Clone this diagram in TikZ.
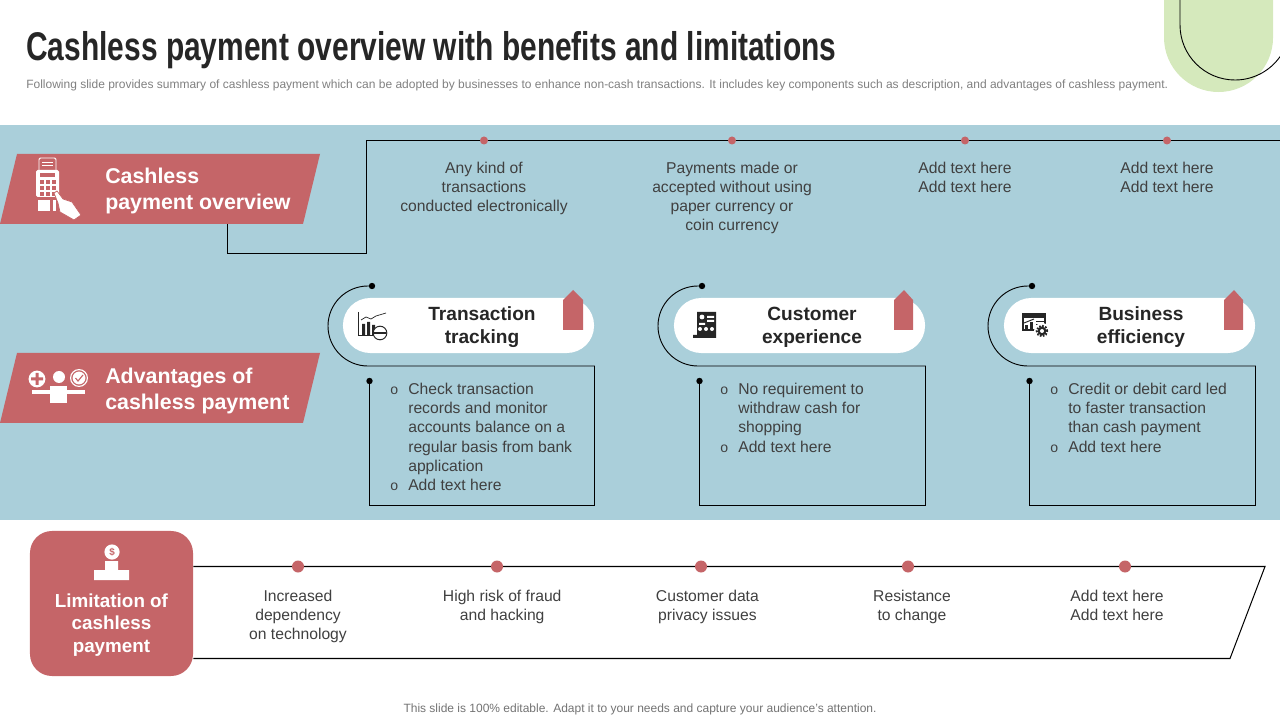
\documentclass[tikz,border=0pt]{standalone}
\usepackage{fontspec}
\setmainfont{Liberation Sans}
\newfontfamily\headfont[FakeStretch=0.747]{Liberation Sans}
\usetikzlibrary{positioning}

\definecolor{bandblue}{HTML}{AACFDA}
\definecolor{rosered}{HTML}{C56568}
\definecolor{palegreen}{HTML}{D5E9BC}
\definecolor{inkgrey}{HTML}{404040}

\newcommand{\bul}{\llap{\fontsize{10}{10}\selectfont o\hspace{0.72em}}}

\begin{document}
\begin{tikzpicture}[
    x=0.025cm, y=-0.025cm,
    rule/.style={draw=black, line width=0.72pt},
    thin rule/.style={draw=black, line width=0.65pt},
    topdot/.style={circle, fill=rosered, inner sep=0pt, minimum size=0.2cm},
    limdot/.style={circle, fill=rosered, inner sep=0pt, minimum size=0.3cm},
    blackdot/.style={circle, fill=black, inner sep=0pt, minimum size=0.16cm},
    desc/.style={inner sep=0pt, align=center, text=inkgrey, font=\fontsize{11.15}{13.6}\selectfont},
    bullets/.style={inner sep=0pt, anchor=north west, align=left, text=inkgrey, font=\fontsize{11.15}{13.6}\selectfont},
    banner text/.style={inner sep=0pt, anchor=west, align=left, text=white, font=\fontsize{15.2}{18}\selectfont\bfseries},
    pill/.style={fill=white, rounded corners=0.68cm, minimum width=6.275cm, minimum height=1.375cm, inner sep=0pt},
    pill title/.style={inner sep=0pt, align=center, text=black!85, font=\fontsize{13.6}{16.4}\selectfont\bfseries},
    small grey/.style={inner sep=0pt, text=black!55, font=\fontsize{8.53}{10}\selectfont},
    limit box/.style={fill=rosered, rounded corners=0.55cm, minimum width=4.075cm, minimum height=3.625cm, inner sep=0pt},
    tag/.style={fill=rosered},
    icon/.style={fill=black!85, draw=none},
    icon line/.style={draw=black!85, line width=0.7pt}
]
\useasboundingbox (0,0) rectangle (1280,720);

% Backdrop
\fill[palegreen] (1164,0) -- (1164,37.5) arc[start angle=180, end angle=360, radius=1.3625cm] -- (1273,0) -- cycle;
\draw[thin rule] (1180,0) -- (1180,25) arc[start angle=180, end angle=325, radius=1.375cm];
\fill[bandblue] (0,125) rectangle (1280,520);

% Title
\node[inner sep=0pt, anchor=west, text=black!85, font=\fontsize{28.5}{30}\selectfont\headfont\bfseries] (title) at (26,50) {Cashless payment overview with benefits and limitations};
\node[small grey, anchor=west, text=black!50] (subtitle) at (26,85) {Following slide provides summary of cashless payment which can be adopted by businesses to enhance non-cash transactions. It includes key components such as description, and advantages of cashless payment.};

% Banners
\fill[rosered] (17,154) -- (320,154) -- (303,224) -- (0,224) -- cycle;
\fill[rosered] (17,353) -- (320,353) -- (303,423) -- (0,423) -- cycle;
\node[banner text] (overview) at (105,191) {Cashless\\payment overview};
\node[banner text] (advantages) at (105,391) {Advantages of\\cashless payment};

% Overview line
\coordinate (overviewStart) at (227.5,224);
\coordinate (dotA) at (484,140.5);
\coordinate (dotB) at (732,140.5);
\coordinate (dotC) at (965,140.5);
\coordinate (dotD) at (1167,140.5);
\draw[rule] (overviewStart) -- (227.5,253.5) -- (366.5,253.5) -- (366.5,140.5) -- (dotA) -- (dotB) -- (dotC) -- (dotD) -- (1280,140.5);
\node[topdot] (overviewA) at (dotA) {};
\node[topdot] (overviewB) at (dotB) {};
\node[topdot] (overviewC) at (dotC) {};
\node[topdot] (overviewD) at (dotD) {};
\node[desc, anchor=north, below=0.42cm of overviewA] (descA) {Any kind of\\transactions\\conducted electronically};
\node[desc, anchor=north, below=0.42cm of overviewB] (descB) {Payments made or\\accepted without using\\paper currency or\\coin currency};
\node[desc, anchor=north, below=0.42cm of overviewC] (descC) {Add text here\\Add text here};
\node[desc, anchor=north, below=0.42cm of overviewD] (descD) {Add text here\\Add text here};

% Advantage cards
\node[pill] (pillA) at (468.5,325.5) {};
\node[pill] (pillB) at (799.5,325.5) {};
\node[pill] (pillC) at (1129.5,325.5) {};
\node[pill title] (titleA) at (482,327) {Transaction\\tracking};
\node[pill title] (titleB) at (812,327) {Customer\\experience};
\node[pill title] (titleC) at (1141,327) {Business\\efficiency};

\fill[tag] (563,330) -- (563,300) -- (573,290) -- (583,300) -- (583,330) -- cycle;
\fill[tag] (894,330) -- (894,300) -- (904,290) -- (913,300) -- (913,330) -- cycle;
\fill[tag] (1224,330) -- (1224,300) -- (1234,290) -- (1243,300) -- (1243,330) -- cycle;

\node[blackdot] (arcA) at (372,286) {};
\node[blackdot] (arcB) at (702,286) {};
\node[blackdot] (arcC) at (1032,286) {};
\node[blackdot] (boxA) at (369.5,381) {};
\node[blackdot] (boxB) at (699.5,381) {};
\node[blackdot] (boxC) at (1029.5,381) {};
\draw[thin rule] (arcA.center) -- (368,286) arc[start angle=90, end angle=270, radius=1cm] -- (594.5,366) -- (594.5,505.5) -- (369.5,505.5) -- (boxA.center);
\draw[thin rule] (arcB.center) -- (698,286) arc[start angle=90, end angle=270, radius=1cm] -- (925.5,366) -- (925.5,505.5) -- (699.5,505.5) -- (boxB.center);
\draw[thin rule] (arcC.center) -- (1028,286) arc[start angle=90, end angle=270, radius=1cm] -- (1255.5,366) -- (1255.5,505.5) -- (1029.5,505.5) -- (boxC.center);

\node[bullets] (listA) at (408,383) {\bul Check transaction\\records and monitor\\accounts balance on a\\regular basis from bank\\application\\\bul Add text here};
\node[bullets] (listB) at (738,383) {\bul No requirement to\\withdraw cash for\\shopping\\\bul Add text here};
\node[bullets] (listC) at (1068,383) {\bul Credit or debit card led\\to faster transaction\\than cash payment\\\bul Add text here};

% Limitation strip
\node[limit box] (limit) at (111.5,603.5) {};
\node[inner sep=0pt, align=center, text=white, font=\fontsize{13.4}{16}\selectfont\bfseries] (limitText) at (111.5,625) {Limitation of\\cashless\\payment};
\coordinate (limA) at (298,566.5);
\coordinate (limB) at (497,566.5);
\coordinate (limC) at (701,566.5);
\coordinate (limD) at (908,566.5);
\coordinate (limE) at (1125,566.5);
\draw[rule] (limit.east |- limA) -- (limA) -- (limB) -- (limC) -- (limD) -- (limE) -- (1265,566.5) -- (1230,658.5) -- (limit.east |- 0,658.5);
\node[limdot] (dropA) at (limA) {};
\node[limdot] (dropB) at (limB) {};
\node[limdot] (dropC) at (limC) {};
\node[limdot] (dropD) at (limD) {};
\node[limdot] (dropE) at (limE) {};
\node[desc, anchor=north, below=0.42cm of dropA] (limitA) {Increased\\dependency\\on technology};
\node[desc, anchor=north, below=0.42cm of dropB, xshift=0.13cm] (limitB) {High risk of fraud\\and hacking};
\node[desc, anchor=north, below=0.42cm of dropC, xshift=0.16cm] (limitC) {Customer data\\privacy issues};
\node[desc, anchor=north, below=0.42cm of dropD, xshift=0.1cm] (limitD) {Resistance\\to change};
\node[desc, anchor=north, below=0.42cm of dropE, xshift=-0.2cm] (limitE) {Add text here\\Add text here};

% Footer
\node[small grey] (footer) at (640,709) {This slide is 100\% editable. Adapt it to your needs and capture your audience's attention.};

% Banner icons
\draw[white, line width=0.7pt, rounded corners=1pt] (39,170) -- (39,158) -- (56,158) -- (56,170);
\draw[white, line width=0.6pt] (42,162) -- (53,162) (42,165) -- (53,165);
\fill[white, rounded corners=1.2pt] (36,170) rectangle (59,197);
\foreach \col in {40,46,52} \foreach \row in {180,186,192}
  \fill[rosered] (\col,\row) rectangle ++(4,4);
\fill[rosered] (40,173) rectangle (55,177);
\fill[white] (38,200) rectangle (50,211);
\fill[white] (53,200) rectangle (56,211);
\draw[fill=white, draw=rosered, line width=0.5pt] (54,193) -- (57,191) -- (63,199) -- (72,202) -- (81,215) -- (74,220) -- (60,212) -- (58,203) -- cycle;

\fill[white] (37,379) circle[radius=0.21cm];
\fill[rosered] (35.5,373) rectangle (38.5,385) (31,377.5) rectangle (43,380.5);
\fill[white] (59,377) circle[radius=0.15cm];
\fill[white] (32,390) rectangle (85,394);
\fill[white] (50,386) rectangle (67,403);
\draw[white, line width=0.8pt] (79,378) circle[radius=0.21cm];
\fill[white] (79,378) circle[radius=0.16cm];
\draw[rosered, line width=0.8pt] (75.5,378) -- (78,381) -- (83,375);

\fill[white] (112,552) circle[radius=0.19cm];
\node[inner sep=0pt, text=rosered, font=\fontsize{7}{7}\selectfont\bfseries] (dollar) at (112,552) {\$};
\fill[white] (105,561) rectangle (118,571) (94,570) rectangle (129,580);

% Card icons
\draw[icon line] (358.5,312) -- (358.5,335) -- (378,335);
\fill[icon] (362,324) rectangle (365,335) (367,322) rectangle (370,335) (372,325) rectangle (375,335);
\draw[icon line, line width=0.5pt] (361,320) -- (366,317) -- (371,319) -- (376,316) -- (386,313);
\draw[icon line, fill=white] (380,333) circle[radius=0.17cm];
\fill[icon] (374,332) rectangle (386,334);

\fill[icon] (697,312) rectangle (716,335) (693,335) rectangle (716,338);
\fill[white] (702,317) circle[radius=0.06cm] (699,323) rectangle (705,325);
\fill[white] (707,316) rectangle (714,318) (707,320) rectangle (714,322);
\foreach \col in {700,706,712}
  \fill[white] (\col,329) circle[radius=0.05cm];

\fill[icon] (1022,313) rectangle (1046,331);
\fill[white] (1024,318) rectangle (1044,329);
\fill[icon] (1025,329) -- (1025,325) -- (1028,325) -- (1028,329) -- cycle;
\fill[icon] (1030,329) -- (1030,322) -- (1033,322) -- (1033,329) -- cycle;
\draw[icon line] (1024,323) -- (1034,319);
\draw[icon line] (1036,321) -- (1044,321) (1036,324) -- (1044,324);
\fill[white] (1042,331) circle[radius=0.2cm];
\draw[icon line, line width=1.5pt, dash pattern=on 1.2pt off 1pt] (1042,331) circle[radius=0.13cm];
\fill[icon] (1042,331) circle[radius=0.11cm];
\fill[white] (1042,331) circle[radius=0.05cm];

\end{tikzpicture}
\end{document}
